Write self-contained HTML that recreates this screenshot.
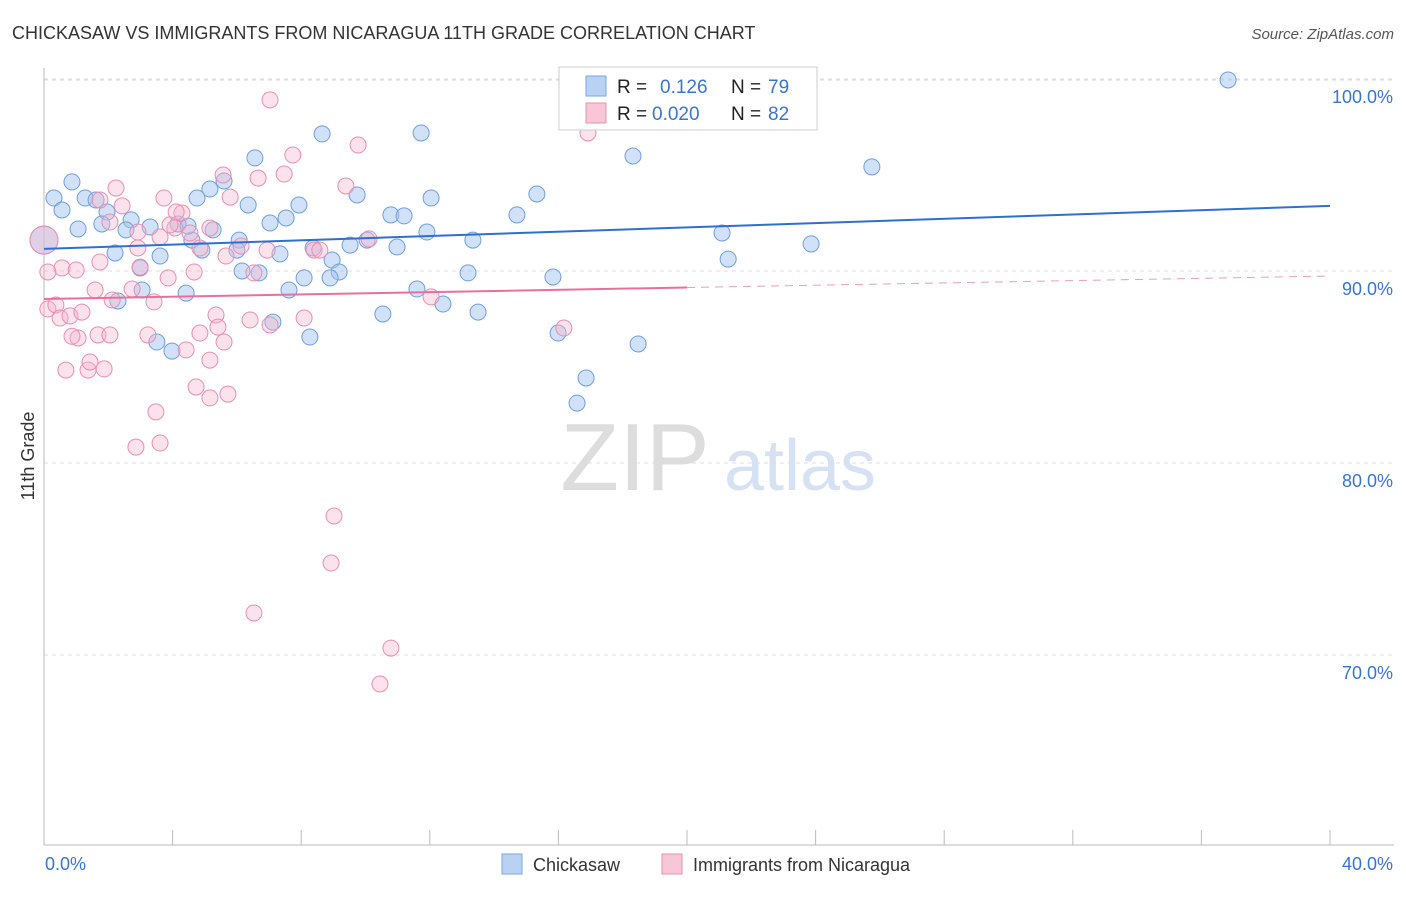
<!DOCTYPE html>
<html><head><meta charset="utf-8"><style>
body{margin:0;background:#fff;font-family:"Liberation Sans",sans-serif;}
svg text{font-family:"Liberation Sans",sans-serif;}
</style></head><body>
<svg id="c" width="1406" height="892">
<text x="12" y="39" font-size="18" fill="#333">CHICKASAW VS IMMIGRANTS FROM NICARAGUA 11TH GRADE CORRELATION CHART</text>
<text x="1394" y="39" font-size="15" fill="#555" font-style="italic" text-anchor="end">Source: ZipAtlas.com</text>
<text x="34" y="456" font-size="18" fill="#333" transform="rotate(-90 34 456)" text-anchor="middle">11th Grade</text>
<g><text x="635" y="490" font-size="96" fill="#ddd" font-family="Liberation Serif" text-anchor="middle">ZIP</text><text x="800" y="490" font-size="72" fill="#d6e2f3" text-anchor="middle">atlas</text></g>
<g id="grid"></g><g id="axes"></g><g id="pts"></g><g id="lines"></g>
<g>
<rect x="559" y="67" width="258" height="63" fill="#fff" stroke="#ccc"/>
<rect x="586" y="76" width="20" height="20" fill="#b9d2f3" stroke="#7aa6e0"/>
<rect x="586" y="103" width="20" height="20" fill="#f8c6d6" stroke="#e993ae"/>
<text x="617" y="93" font-size="19" fill="#222">R = </text><text x="660" y="93" font-size="19" fill="#3a74d0">0.126</text>
<text x="731" y="93" font-size="19" fill="#222">N = </text><text x="768" y="93" font-size="19" fill="#3a74d0">79</text>
<text x="617" y="120" font-size="19" fill="#222">R = </text><text x="652" y="120" font-size="19" fill="#3a74d0">0.020</text>
<text x="731" y="120" font-size="19" fill="#222">N = </text><text x="768" y="120" font-size="19" fill="#3a74d0">82</text>
</g>
<g>
<rect x="502" y="854" width="20" height="20" fill="#b9d2f3" stroke="#7aa6e0"/>
<text x="533" y="871" font-size="18" fill="#333">Chickasaw</text>
<rect x="662" y="854" width="20" height="20" fill="#f8c6d6" stroke="#e993ae"/>
<text x="693" y="871" font-size="18" fill="#333">Immigrants from Nicaragua</text>
</g>
</svg>
<script>
const xTicks=[0,4,8,12,16,20,24,28,32,36,40];
const yTicks=[70,80,90,100];
const yTickLabels=["70.0%","80.0%","90.0%","100.0%"];
const blueX=[36.83,25.75,18.32,11.73,8.65,6.56,0.31,0.87,0.56,1.28,1.62,1.96,1.80,2.71,3.30,4.17,4.60,5.16,5.60,4.76,5.26,6.07,6.35,7.03,7.53,7.93,8.37,9.52,10.05,10.98,11.91,13.34,14.71,15.33,12.04,9.74,10.79,11.20,2.21,2.99,3.61,4.91,6.16,6.69,7.34,8.09,8.96,9.18,8.90,7.62,4.42,3.05,2.30,7.12,8.27,3.98,3.51,10.54,11.60,12.41,13.50,13.19,15.83,15.99,16.86,16.58,18.48,21.28,21.09,23.86,2.55,6.00,0,1.06,4.48,20.31,21.96];
const blueY=[99.95,95.42,95.99,97.19,97.14,95.89,93.8,94.64,93.18,93.8,93.7,93.07,92.45,92.66,92.29,92.45,91.61,94.27,94.69,93.8,92.14,91.61,93.44,92.5,92.76,93.44,91.2,91.35,91.61,91.25,92.03,91.61,92.92,94.01,93.8,93.96,92.92,92.87,90.94,90.16,90.78,91.09,90.0,89.9,90.89,89.64,90.57,89.95,89.64,89.01,88.85,89.01,88.44,87.34,86.56,85.83,86.3,87.76,89.06,88.28,87.86,89.9,89.69,86.77,84.43,83.12,86.2,90.62,91.98,91.41,92.14,91.09,91.61,92.19,92.34,97.86,98.28];
const pinkX=[7.03,16.92,9.77,7.74,5.57,6.66,7.47,2.24,3.73,5.79,4.29,9.39,1.74,2.43,2.05,2.92,3.61,4.07,4.54,4.85,6.13,6.94,8.40,10.11,8.58,2.92,1.74,0.56,1.00,0.12,2.99,3.86,4.67,5.66,6.53,0.12,0.37,0.50,0.81,1.18,1.59,2.12,3.42,2.74,1.06,0.87,1.68,2.05,3.23,4.85,4.42,5.35,5.41,6.41,7.03,8.09,5.60,5.16,0.68,1.37,1.43,1.87,4.73,5.16,5.72,3.48,2.86,3.61,9.02,8.93,6.53,10.79,10.45,12.04,16.17,0,5.16,3.92,4.11];
const pinkY=[98.91,97.19,96.56,96.04,95.0,94.84,95.05,94.32,93.8,93.85,93.02,94.43,93.7,93.39,92.55,92.03,91.77,92.24,91.98,91.2,91.3,91.09,91.09,91.67,91.09,91.2,90.47,90.16,90.05,89.95,90.2,89.64,89.95,90.78,89.9,88.02,88.23,87.55,87.66,87.86,89.01,88.49,88.39,89.06,86.51,86.6,86.67,86.67,86.67,86.77,85.89,87.71,87.08,87.45,87.19,87.55,86.3,85.36,84.84,84.84,85.26,84.9,83.96,83.39,83.59,82.66,80.83,81.04,77.24,74.79,72.19,70.36,68.49,88.65,87.03,91.61,92.24,92.4,93.07];
const blueTrend=[91.15,93.39];
const pinkTrend=[88.54,89.74];
const X=v=>44+v*32.15, Y=v=>79+(100-v)*19.2;
const NS="http://www.w3.org/2000/svg";
function mk(t,a,p){const e=document.createElementNS(NS,t);for(const k in a)e.setAttribute(k,a[k]);p.appendChild(e);return e;}
const grid=document.getElementById('grid'),axes=document.getElementById('axes'),pts=document.getElementById('pts'),lines=document.getElementById('lines');
yTicks.forEach((v,i)=>{
const g=mk('line',{x1:44,x2:1394,y1:Y(v),y2:Y(v),stroke:'#ddd','stroke-dasharray':'4,4'},grid);


const t=mk('text',{x:1393,y:Y(v)+24,'font-size':18,fill:'#3a74d0','text-anchor':'end'},axes);t.textContent=yTickLabels[i];


});
const tl=mk('line',{x1:44,x2:1394,y1:Y(99.95)-0,y2:Y(99.95),stroke:'#ddd','stroke-dasharray':'4,4'},grid);


const xa=mk('line',{x1:44,x2:1394,y1:845,y2:845,stroke:'#bbb'},axes);


const ya=mk('line',{x1:44,x2:44,y1:68,y2:845,stroke:'#bbb'},axes);


xTicks.forEach(v=>{const t=mk('line',{x1:X(v),x2:X(v),y1:830,y2:845,stroke:'#bbb'},axes);

});
const x0=mk('text',{x:45,y:870,'font-size':18,fill:'#3a74d0'},axes);x0.textContent='0.0%';


const x1=mk('text',{x:1393,y:870,'font-size':18,fill:'#3a74d0','text-anchor':'end'},axes);x1.textContent='40.0%';


blueX.forEach((v,i)=>{const c=mk('circle',{cx:X(v),cy:Y(blueY[i]),r:v===0?14:8,fill:'rgba(164,196,240,0.5)',stroke:'#6f9fdd','stroke-width':1},pts);

});
pinkX.forEach((v,i)=>{const c=mk('circle',{cx:X(v),cy:Y(pinkY[i]),r:v===0?14:8,fill:'rgba(246,182,204,0.4)',stroke:'#e98fb0','stroke-width':1},pts);

});
const bl=mk('line',{x1:X(0),y1:Y(blueTrend[0]),x2:X(40),y2:Y(blueTrend[1]),stroke:'#2f6fd0','stroke-width':2},lines);


const pm=pinkTrend[0]+(pinkTrend[1]-pinkTrend[0])*0.5;
const p1=mk('line',{x1:X(0),y1:Y(pinkTrend[0]),x2:X(20),y2:Y(pm),stroke:'#e8709a','stroke-width':2},lines);


const p2=mk('line',{x1:X(20),y1:Y(pm),x2:X(40),y2:Y(pinkTrend[1]),stroke:'#e8a0b8','stroke-width':1,'stroke-dasharray':'8,6'},lines);


</script>
</body></html>
